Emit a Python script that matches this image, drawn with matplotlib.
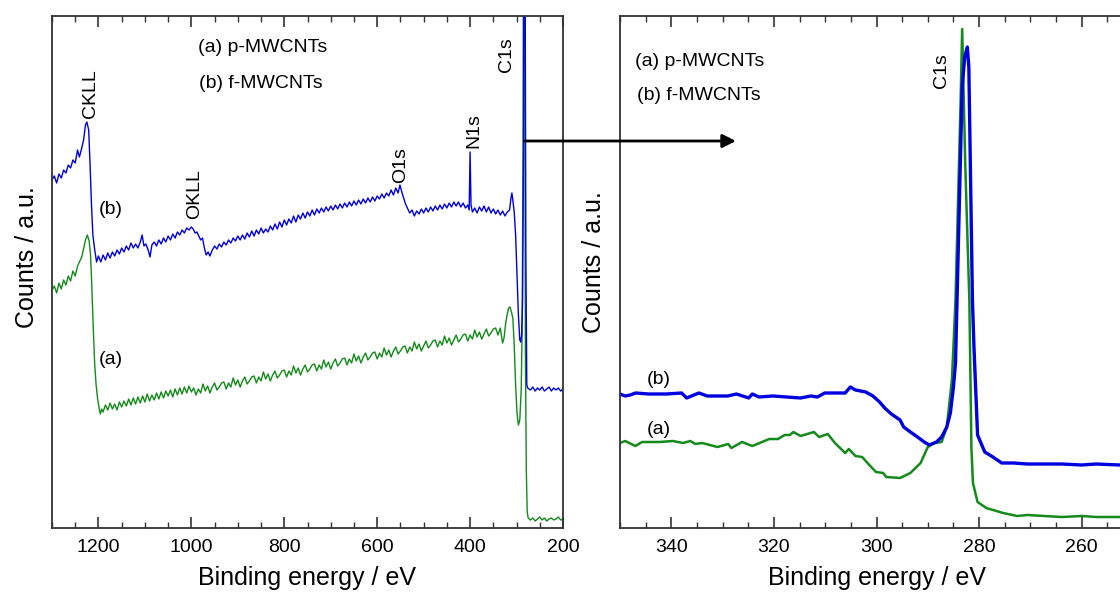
import numpy as np
import matplotlib.pyplot as plt
from matplotlib.ticker import MultipleLocator

plt.rcParams['font.family'] = ['Liberation Sans', 'DejaVu Sans']

# survey spectra (binding energy eV, counts a.u.)
survey_b = [(1300, 348), (1295, 352), (1290, 345), (1285, 354), (1280, 350), (1275, 358), (1270, 355),
            (1265, 363), (1260, 360), (1255, 368), (1250, 365), (1245, 378), (1241, 371), (1236, 380),
            (1232, 388), (1228, 403), (1225, 406), (1221, 398), (1218, 363), (1215, 323), (1212, 293),
            (1208, 278), (1204, 266), (1200, 272), (1195, 266), (1190, 273), (1185, 268), (1180, 275),
            (1175, 270), (1170, 276), (1165, 272), (1160, 278), (1155, 274), (1150, 280), (1145, 276),
            (1140, 282), (1135, 278), (1130, 285), (1125, 280), (1120, 284), (1115, 280), (1110, 286),
            (1106, 293), (1102, 282), (1098, 284), (1093, 278), (1089, 271), (1085, 283), (1080, 286),
            (1075, 282), (1070, 288), (1065, 284), (1060, 290), (1055, 286), (1050, 292), (1045, 288),
            (1040, 294), (1035, 290), (1030, 296), (1025, 293), (1020, 298), (1015, 295), (1010, 300),
            (1005, 298), (1000, 301), (996, 299), (992, 295), (988, 296), (984, 292), (980, 288),
            (976, 290), (972, 280), (968, 273), (964, 276), (960, 272), (955, 278), (950, 282),
            (945, 279), (940, 284), (935, 281), (930, 286), (925, 283), (920, 288), (915, 285),
            (910, 290), (905, 287), (900, 292), (895, 288), (890, 293), (885, 289), (880, 295),
            (875, 291), (870, 297), (865, 292), (860, 298), (855, 294), (850, 300), (845, 295),
            (840, 299), (835, 296), (830, 302), (825, 298), (820, 304), (815, 299), (810, 306),
            (805, 301), (800, 308), (795, 303), (790, 309), (785, 305), (780, 312), (775, 306),
            (770, 313), (765, 309), (760, 315), (755, 310), (750, 316), (745, 312), (740, 318),
            (735, 313), (730, 319), (725, 315), (720, 320), (715, 316), (710, 321), (705, 317),
            (700, 322), (695, 318), (690, 323), (685, 319), (680, 324), (675, 320), (670, 325),
            (665, 321), (660, 326), (655, 322), (650, 327), (645, 323), (640, 328), (635, 324),
            (630, 329), (625, 325), (620, 330), (615, 326), (610, 331), (605, 327), (600, 332),
            (595, 329), (590, 334), (585, 330), (580, 335), (575, 332), (570, 338), (565, 333),
            (560, 340), (555, 335), (551, 343), (547, 336), (543, 330), (539, 324), (535, 320),
            (530, 315), (525, 318), (520, 312), (515, 317), (510, 314), (505, 319), (500, 315),
            (495, 320), (490, 316), (485, 321), (480, 317), (475, 322), (470, 318), (465, 323),
            (460, 319), (455, 324), (450, 320), (445, 325), (440, 321), (435, 326), (430, 322),
            (425, 326), (420, 321), (415, 325), (410, 320), (405, 323), (402, 318), (400, 376),
            (398, 323), (395, 316), (390, 320), (385, 315), (380, 321), (375, 317), (370, 322),
            (365, 316), (360, 321), (355, 315), (350, 319), (345, 314), (340, 318), (335, 313),
            (330, 317), (325, 312), (320, 316), (315, 318), (312, 330), (310, 335), (308, 328),
            (305, 316), (302, 293), (299, 253), (296, 213), (293, 188), (291, 186), (289, 193),
            (287, 228), (285, 378), (284, 650), (282, 650), (280, 278), (278, 143), (276, 140),
            (270, 138), (265, 141), (260, 137), (255, 140), (250, 138), (245, 141), (240, 137),
            (235, 139), (230, 141), (225, 137), (220, 140), (215, 138), (210, 140), (205, 137),
            (200, 139)]

survey_a = [(1300, 238), (1295, 242), (1290, 235), (1285, 245), (1280, 239), (1275, 248), (1270, 243),
            (1265, 252), (1260, 247), (1255, 257), (1250, 252), (1245, 262), (1241, 266), (1236, 271),
            (1232, 279), (1228, 288), (1224, 293), (1220, 287), (1217, 273), (1214, 238), (1211, 198),
            (1208, 163), (1205, 143), (1202, 130), (1199, 121), (1196, 114), (1193, 119), (1190, 116),
            (1185, 123), (1180, 118), (1175, 125), (1170, 119), (1165, 124), (1160, 118), (1155, 126),
            (1150, 121), (1145, 127), (1140, 122), (1135, 129), (1130, 123), (1125, 130), (1120, 124),
            (1115, 131), (1110, 125), (1105, 132), (1100, 126), (1095, 134), (1090, 127), (1085, 133),
            (1080, 128), (1075, 135), (1070, 129), (1065, 136), (1060, 130), (1055, 137), (1050, 132),
            (1045, 138), (1040, 131), (1035, 139), (1030, 133), (1025, 140), (1020, 134), (1015, 141),
            (1010, 135), (1005, 142), (1000, 136), (995, 140), (990, 133), (985, 139), (980, 135),
            (975, 144), (970, 137), (965, 142), (960, 135), (955, 141), (950, 145), (945, 138),
            (940, 141), (935, 145), (930, 146), (925, 139), (920, 145), (915, 141), (910, 150),
            (905, 143), (900, 148), (895, 141), (890, 147), (885, 151), (880, 144), (875, 147),
            (870, 151), (865, 152), (860, 145), (855, 151), (850, 147), (845, 156), (840, 149),
            (835, 154), (830, 147), (825, 153), (820, 157), (815, 150), (810, 153), (805, 157),
            (800, 158), (795, 151), (790, 157), (785, 153), (780, 162), (775, 155), (770, 160),
            (765, 153), (760, 159), (755, 163), (750, 156), (745, 159), (740, 163), (735, 164),
            (730, 157), (725, 163), (720, 159), (715, 168), (710, 161), (705, 166), (700, 159),
            (695, 165), (690, 169), (685, 162), (680, 165), (675, 169), (670, 170), (665, 163),
            (660, 169), (655, 165), (650, 174), (645, 167), (640, 172), (635, 165), (630, 171),
            (625, 175), (620, 168), (615, 171), (610, 175), (605, 176), (600, 169), (595, 175),
            (590, 171), (585, 180), (580, 173), (575, 178), (570, 171), (565, 177), (560, 181),
            (555, 174), (550, 177), (545, 181), (540, 182), (535, 175), (530, 181), (525, 177),
            (520, 186), (515, 179), (510, 184), (505, 177), (500, 182), (495, 187), (490, 180),
            (485, 183), (480, 187), (475, 188), (470, 181), (465, 187), (460, 183), (455, 192),
            (450, 185), (445, 190), (440, 183), (435, 188), (430, 193), (425, 186), (420, 189),
            (415, 193), (410, 194), (405, 187), (400, 193), (395, 189), (390, 198), (385, 191),
            (380, 196), (375, 189), (370, 194), (365, 199), (360, 192), (355, 195), (350, 199),
            (345, 200), (340, 193), (335, 200), (330, 185), (327, 190), (323, 206), (320, 214),
            (317, 220), (314, 221), (311, 216), (308, 210), (305, 183), (302, 143), (299, 115),
            (296, 103), (293, 108), (290, 138), (288, 198), (286, 378), (285, 650), (283, 650),
            (281, 178), (279, 58), (277, 16), (275, 10), (270, 8), (265, 10), (260, 7), (255, 9),
            (250, 11), (245, 8), (240, 10), (235, 7), (230, 9), (225, 10), (220, 8), (215, 9),
            (210, 11), (205, 8), (200, 9)]

# C1s high resolution region
c1s_b = [(350, 134), (349, 132), (348, 133), (347, 135), (344.4, 134), (341, 134), (338, 135),
         (337, 130), (335.6, 133), (334.6, 135), (333, 132), (331, 132), (329, 132), (327.3, 134),
         (324.9, 130), (324.2, 134), (322.9, 131), (320.2, 132), (317.5, 131), (314.8, 130),
         (312.8, 132), (311.5, 131), (310.1, 135), (308.1, 135), (306.1, 135), (305.1, 141),
         (304.1, 138), (302.1, 136), (300.7, 132), (299.4, 126), (298.4, 120), (297.1, 114),
         (295.4, 108), (294.7, 101), (293.4, 96), (292, 91), (290.7, 86), (289.7, 83), (288.3, 86),
         (287.3, 91), (286.3, 101), (285.6, 115), (285.0, 141), (284.6, 165), (284.3, 228),
         (283.3, 441), (282.8, 471), (282.3, 481), (282.0, 461), (281.3, 228), (281.0, 181),
         (280.3, 93), (278.9, 76), (277.3, 71), (275.6, 65), (273.3, 65), (270.6, 64), (267, 64),
         (263.9, 64), (260, 63), (257.2, 64), (252.6, 63), (250, 63)]

c1s_a = [(350, 85), (349, 87), (347, 82), (345.7, 86), (342.3, 86), (339.7, 87), (337.7, 85),
         (336.3, 87), (335.3, 84), (334, 85), (331, 81), (328.9, 84), (328.3, 80), (326.2, 86),
         (324.2, 82), (320.9, 89), (319.2, 89), (317.9, 93), (316.9, 93), (316.2, 96), (314.8, 92),
         (312.2, 96), (311.2, 91), (309.5, 94), (308.1, 85), (306.1, 75), (305.4, 79), (304.1, 72),
         (302.8, 71), (301.4, 63), (300.1, 56), (298.7, 55), (298.1, 51), (295.4, 50), (293.4, 55),
         (291.4, 65), (290.0, 81), (288.7, 85), (287.3, 86), (286.3, 101), (285.3, 148),
         (284.6, 228), (284.1, 328), (283.6, 428), (283.3, 499), (282.7, 363), (281.9, 228),
         (281.5, 80), (281.2, 45), (280.3, 26), (278.6, 20), (275.3, 15), (272.6, 12), (270.6, 13),
         (267.3, 12), (263.9, 11), (260, 12), (257.2, 11), (252.6, 11), (250, 11)]

sample_names = ['(a) p-MWCNTs', '(b) f-MWCNTs']
survey_peaks = ['CKLL', 'OKLL', 'O1s', 'N1s', 'C1s']

blue = '#0000e0'
green = '#138a1a'
spine_col = '#333333'

fig = plt.figure(figsize=(11.2, 5.92), dpi=100)
ax1 = fig.add_axes([52 / 1120, 64 / 592, 511 / 1120, 512 / 592])
ax2 = fig.add_axes([620 / 1120, 64 / 592, 513 / 1120, 512 / 592])

e_a, c_a = np.array(survey_a).T
e_b, c_b = np.array(survey_b).T
ax1.plot(e_a, c_a, color=green, lw=1.0)
ax1.plot(e_b, c_b, color=blue, lw=1.0)

e_a, c_a = np.array(c1s_a).T
e_b, c_b = np.array(c1s_b).T
ax2.plot(e_a, c_a, color=green, lw=1.8)
ax2.plot(e_b, c_b, color=blue, lw=2.4)

ax1.set_xlim(1300, 200)
ax2.set_xlim(350, 250)
ax1.xaxis.set_major_locator(MultipleLocator(200))
ax1.xaxis.set_minor_locator(MultipleLocator(50))
ax2.xaxis.set_major_locator(MultipleLocator(20))
ax2.xaxis.set_minor_locator(MultipleLocator(5))

for ax in (ax1, ax2):
    ax.set_ylim(0, 512)
    ax.set_yticks([])
    ax.tick_params(axis='x', which='both', direction='in', top=True, labelsize=14, pad=8,
                   color=spine_col)
    ax.tick_params(axis='x', which='major', length=8, width=1.2)
    ax.tick_params(axis='x', which='minor', length=4.5, width=1.0)
    for s in ax.spines.values():
        s.set_color(spine_col)
        s.set_linewidth(1.3)
    ax.set_xlabel('Binding energy / eV', fontsize=18, labelpad=7)
    ax.set_ylabel('Counts / a.u.', fontsize=18)

ax1.yaxis.set_label_coords(-0.025, 0.53)
ax2.yaxis.set_label_coords(-0.027, 0.52)

# survey labels
for name, (x, y) in zip(survey_peaks, [(1218, 410), (992, 309), (549, 345), (392, 380), (321, 456)]):
    ax1.text(x, y, name, rotation=90, ha='center', va='bottom', fontsize=14)
ax1.text(986, 481, sample_names[0], ha='left', va='center', fontsize=14)
ax1.text(984, 445, sample_names[1], ha='left', va='center', fontsize=14)
ax1.text(1199, 318, '(b)', ha='left', va='center', fontsize=14)
ax1.text(1199, 168, '(a)', ha='left', va='center', fontsize=14)

# C1s labels
ax2.text(287.4, 440, 'C1s', rotation=90, ha='center', va='bottom', fontsize=14)
ax2.text(347.1, 467, sample_names[0], ha='left', va='center', fontsize=14)
ax2.text(346.6, 432, sample_names[1], ha='left', va='center', fontsize=14)
ax2.text(344.7, 149, '(b)', ha='left', va='center', fontsize=14)
ax2.text(344.7, 99, '(a)', ha='left', va='center', fontsize=14)

# arrow from survey C1s to zoomed region
ax2.annotate('', xy=(327.4, 387), xycoords=ax2.transData,
             xytext=(282, 387), textcoords=ax1.transData,
             arrowprops=dict(arrowstyle='-|>', color='k', lw=2, mutation_scale=20,
                             shrinkA=0, shrinkB=0),
             annotation_clip=False)

fig.savefig('out.png', dpi=100)
